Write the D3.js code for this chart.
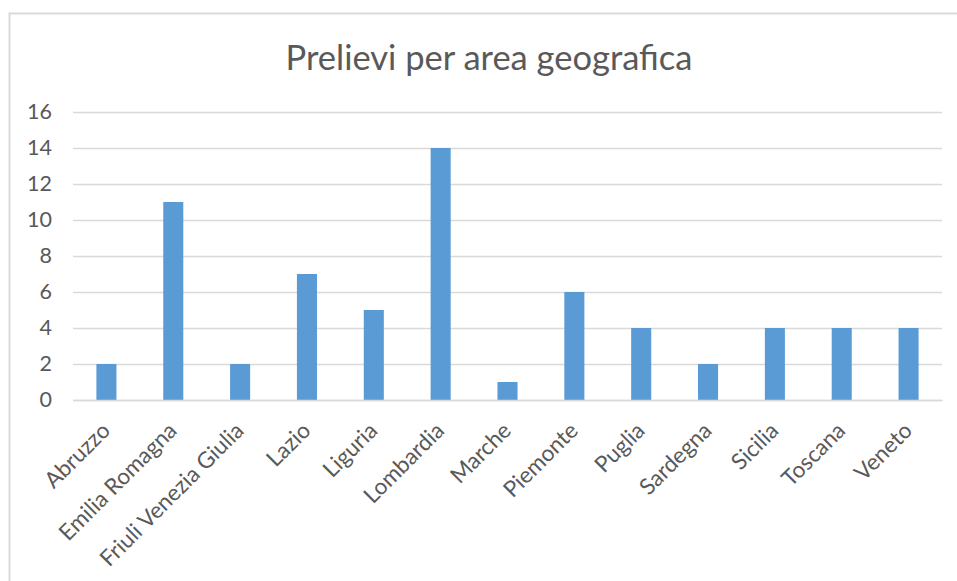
<!DOCTYPE html>
<html>
<head>
<meta charset="utf-8">
<script src="https://cdn.jsdelivr.net/npm/d3@7"></script>
<style>
  body { margin: 0; background: #fff; }
  svg { display: block; font-family: Lato, "Open Sans", sans-serif; }
</style>
</head>
<body>
<div id="chart"></div>
<script>
const regions = ['Abruzzo', 'Emilia Romagna', 'Friuli Venezia Giulia', 'Lazio', 'Liguria', 'Lombardia',
  'Marche', 'Piemonte', 'Puglia', 'Sardegna', 'Sicilia', 'Toscana', 'Veneto'];
const prelievi = [2, 11, 2, 7, 5, 14, 1, 6, 4, 2, 4, 4, 4];
const yTicks = [0, 2, 4, 6, 8, 10, 12, 14, 16];
const title = 'Prelievi per area geografica';

const width = 957, height = 581;
const margin = {top: 112, right: 15, bottom: 181, left: 73};

const svg = d3.select('#chart').append('svg')
  .attr('width', width).attr('height', height);

// chart frame (only top and left edges visible in the crop)
svg.append('path')
  .attr('d', `M9.5,${height} V13.5 H${width}`)
  .attr('fill', 'none').attr('stroke', '#d9d9d9').attr('stroke-width', 2);

svg.append('text')
  .attr('x', 489).attr('y', 70)
  .attr('text-anchor', 'middle')
  .attr('font-size', 34.5).attr('fill', '#595959')
  .text(title);

const x = d3.scaleBand()
  .domain(regions)
  .range([margin.left, width - margin.right])
  .paddingInner(0.7).paddingOuter(0.35);

const y = d3.scaleLinear()
  .domain([0, 16])
  .range([height - margin.bottom, margin.top]);

// gridlines + y labels
const yAxis = svg.append('g')
  .attr('transform', `translate(${margin.left},0)`)
  .call(d3.axisLeft(y).tickValues(yTicks).tickSize(-(width - margin.right - margin.left)).tickPadding(21));
yAxis.select('.domain').remove();
yAxis.selectAll('.tick line').attr('stroke', '#d9d9d9').attr('stroke-width', 1.3);
yAxis.selectAll('.tick text')
  .attr('fill', '#595959').attr('font-size', 21.5)
  .attr('font-family', 'Lato, sans-serif');

// bars
svg.append('g').selectAll('rect')
  .data(regions)
  .join('rect')
  .attr('x', d => x(d))
  .attr('width', x.bandwidth())
  .attr('y', (d, i) => y(prelievi[i]))
  .attr('height', (d, i) => y(0) - y(prelievi[i]))
  .attr('fill', '#5b9bd5');

// x labels, rotated 45 deg
const xAxis = svg.append('g')
  .attr('transform', `translate(0,${y(0)})`)
  .call(d3.axisBottom(x).tickSize(0).tickPadding(0));
xAxis.select('.domain').attr('stroke', '#d9d9d9').attr('stroke-width', 1.3);
xAxis.selectAll('.tick text')
  .attr('fill', '#595959').attr('font-size', 22.5)
  .attr('font-family', 'Lato, sans-serif')
  .attr('text-anchor', 'end')
  .attr('dy', null)
  .attr('transform', 'translate(5,32) rotate(-45)');
</script>
</body>
</html>
